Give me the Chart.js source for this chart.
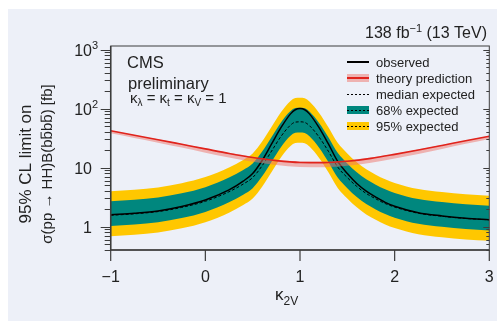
<!DOCTYPE html>
<html>
<head>
<meta charset="utf-8">
<script src="https://cdn.jsdelivr.net/npm/chart.js@4.4.0/dist/chart.umd.min.js"></script>
<style>
  html, body { margin: 0; padding: 0; background: #fff; }
</style>
</head>
<body>
<canvas id="limitChart" width="497" height="321"></canvas>
<script>
// kappa_2V scan points and limits [fb]
var kappa = [-1, -0.75, -0.5, -0.25, 0, 0.25, 0.4, 0.5, 0.6, 0.7, 0.8, 0.9, 0.95, 1.0, 1.05, 1.1, 1.2, 1.3, 1.4, 1.5, 1.6, 1.7, 1.8, 1.9, 2.0, 2.25, 2.5, 2.75, 3];
var observed = [1.578, 1.679, 1.841, 2.188, 2.818, 4.169, 5.888, 7.943, 13.18, 25.12, 47.86, 81.28, 95.50, 100, 95.50, 81.28, 47.86, 25.12, 12.59, 7.943, 5.370, 3.981, 3.162, 2.570, 2.213, 1.718, 1.514, 1.380, 1.300];
var median = [1.549, 1.641, 1.791, 2.109, 2.679, 3.890, 5.248, 6.761, 10.72, 19.05, 33.88, 52.48, 58.88, 59.57, 58.21, 51.29, 33.11, 18.84, 10.12, 6.761, 4.786, 3.631, 2.951, 2.455, 2.138, 1.679, 1.493, 1.371, 1.300];
var up68 = [2.692, 2.852, 3.113, 3.665, 4.656, 6.761, 9.121, 11.75, 18.63, 33.11, 58.88, 91.21, 102.3, 103.5, 101.2, 89.14, 57.55, 32.74, 17.59, 11.75, 8.318, 6.311, 5.129, 4.267, 3.716, 2.918, 2.595, 2.383, 2.259];
var down68 = [1.024, 1.085, 1.184, 1.394, 1.771, 2.571, 3.469, 4.469, 7.086, 12.59, 22.39, 34.69, 38.92, 39.38, 38.48, 33.90, 21.89, 12.45, 6.689, 4.469, 3.164, 2.400, 1.951, 1.623, 1.413, 1.110, 0.987, 0.906, 0.859];
var up95 = [3.981, 4.217, 4.603, 5.420, 6.885, 9.997, 13.49, 17.38, 27.55, 48.96, 87.07, 134.9, 151.3, 153.1, 149.6, 131.8, 85.09, 48.42, 26.01, 17.38, 12.30, 9.332, 7.584, 6.309, 5.495, 4.315, 3.837, 3.523, 3.341];
var down95 = [0.684, 0.725, 0.791, 0.931, 1.183, 1.718, 2.318, 2.986, 4.734, 8.412, 14.96, 23.17, 26.00, 26.31, 25.71, 22.65, 14.62, 8.320, 4.469, 2.986, 2.113, 1.603, 1.303, 1.084, 0.944, 0.741, 0.659, 0.605, 0.574];

// theory prediction and its band
var thKappa = [-1, -0.75, -0.5, -0.25, 0, 0.25, 0.5, 0.75, 1, 1.25, 1.5, 1.75, 2, 2.25, 2.5, 2.75, 3];
var theory = [42, 35.4, 29.7, 24.8, 20.7, 17.3, 14.8, 13.1, 12.2, 12.1, 12.8, 14.3, 16.7, 19.8, 23.7, 28.5, 34];
var theoryHi = [42.5, 35.8, 30.1, 25.2, 21.1, 17.8, 15.3, 13.6, 12.7, 12.6, 13.3, 14.8, 17.1, 20.2, 24.1, 28.8, 34.4];
var theoryLo = [38.0, 31.8, 26.4, 21.8, 17.9, 14.8, 12.5, 11.0, 10.2, 10.1, 10.7, 12.1, 14.2, 17.0, 20.6, 25.2, 30.6];

// axis ticks
var xTicks = [-1, 0, 1, 2, 3];
var xTickLabels = ['\u22121', '0', '1', '2', '3'];
var yTicks = [1, 10, 100, 1000];
var yTickBase = ['1', '10', '10', '10'];
var yTickExp = ['', '', '2', '3'];

var FONT = "'Liberation Sans', Arial, sans-serif";
var YELLOW = '#ffc700';
var GREEN = '#00877e';
var RED = '#e0231c';
var PINK = 'rgba(240,115,105,0.5)';
var FRAME = '#3c3c3c';

function pts(xs, ys) {
    return xs.map(function (x, i) { return { x: x, y: ys[i] }; });
}

// draw text made of runs with different sizes / offsets
function drawRuns(ctx, x, y, runs, align) {
    var total = 0;
    runs.forEach(function (r) {
        ctx.font = r.size + 'px ' + FONT;
        r.w = ctx.measureText(r.t).width;
        total += r.w;
    });
    var cx = x;
    if (align === 'right') cx = x - total;
    if (align === 'center') cx = x - total / 2;
    ctx.textAlign = 'left';
    ctx.textBaseline = 'alphabetic';
    runs.forEach(function (r) {
        ctx.font = r.size + 'px ' + FONT;
        ctx.fillText(r.t, cx, y + (r.dy || 0));
        if (r.bar) {
            ctx.fillRect(cx + 1, y - r.size * 0.76, r.w - 2, 1);
        }
        cx += r.w;
    });
    return total;
}

var decorPlugin = {
    id: 'decor',
    beforeDraw: function (chart) {
        var ctx = chart.ctx;
        ctx.save();
        ctx.fillStyle = '#edf0f8';
        ctx.fillRect(8, 9, chart.width - 8, chart.height - 9);
        ctx.restore();
    },
    afterDraw: function (chart) {
        var ctx = chart.ctx;
        var a = chart.chartArea;
        var xs = chart.scales.x;
        var ys = chart.scales.y;
        ctx.save();

        // frame
        ctx.strokeStyle = FRAME;
        ctx.lineWidth = 1;
        ctx.strokeRect(a.left, a.top, a.right - a.left, a.bottom - a.top);
        ctx.lineWidth = 1.5;
        ctx.beginPath();
        ctx.moveTo(a.left, a.top);
        ctx.lineTo(a.left, a.bottom);
        ctx.lineTo(a.right, a.bottom);
        ctx.stroke();

        // y ticks (log, major + minor)
        ctx.lineWidth = 1;
        for (var d = 0.1; d <= 1000; d *= 10) {
            for (var m = 1; m <= 9; m++) {
                var v = m * d;
                if (v < ys.min || v > ys.max) continue;
                var py = Math.round(ys.getPixelForValue(v)) + 0.5;
                var len = m === 1 ? 10 : 6;
                ctx.beginPath();
                ctx.moveTo(a.left - len, py);
                ctx.lineTo(a.left, py);
                ctx.moveTo(a.right, py);
                ctx.lineTo(a.right - (m === 1 ? 6 : 3), py);
                ctx.stroke();
            }
        }
        // x ticks
        ctx.lineWidth = 1.2;
        xTicks.forEach(function (t) {
            var px = xs.getPixelForValue(t);
            ctx.beginPath();
            ctx.moveTo(px, a.bottom);
            ctx.lineTo(px, a.bottom + 11);
            ctx.stroke();
        });

        ctx.fillStyle = '#222';
        // x tick labels
        xTicks.forEach(function (t, i) {
            drawRuns(ctx, xs.getPixelForValue(t), 282, [{ t: xTickLabels[i], size: 16 }], 'center');
        });
        // y tick labels
        yTicks.forEach(function (t, i) {
            var py = ys.getPixelForValue(t);
            drawRuns(ctx, 92, py + 6, [{ t: yTickBase[i], size: 16 }], 'right');
            if (yTickExp[i]) {
                drawRuns(ctx, 92, py - 1, [{ t: yTickExp[i], size: 11 }], 'left');
            }
        });

        // x title
        drawRuns(ctx, 275, 300, [{ t: '\u03ba', size: 17 }, { t: '2V', size: 12, dy: 5 }], 'left');

        // y title, rotated
        ctx.save();
        ctx.translate(31, 164);
        ctx.rotate(-Math.PI / 2);
        drawRuns(ctx, 0, 0, [{ t: '95% CL limit on', size: 17 }], 'center');
        ctx.restore();
        ctx.save();
        ctx.translate(52, 164);
        ctx.rotate(-Math.PI / 2);
        drawRuns(ctx, 0, 0, [
            { t: '\u03c3(pp \u2192 HH)B(b', size: 15 },
            { t: 'b', size: 15, bar: true },
            { t: 'b', size: 15 },
            { t: 'b', size: 15, bar: true },
            { t: ') [fb]', size: 15 }
        ], 'center');
        ctx.restore();

        // lumi label
        drawRuns(ctx, 487, 38, [
            { t: '138 fb', size: 16 },
            { t: '\u22121', size: 11, dy: -6 },
            { t: ' (13 TeV)', size: 16 }
        ], 'right');

        // CMS labels
        drawRuns(ctx, 127, 68, [{ t: 'CMS', size: 16.5 }], 'left');
        drawRuns(ctx, 128, 89, [{ t: 'preliminary', size: 16.5 }], 'left');
        drawRuns(ctx, 130, 103, [
            { t: '\u03ba', size: 15 }, { t: '\u03bb', size: 10, dy: 3 },
            { t: ' = \u03ba', size: 15 }, { t: 't', size: 10, dy: 3 },
            { t: ' = \u03ba', size: 15 }, { t: 'V', size: 10, dy: 3 },
            { t: ' = 1', size: 15 }
        ], 'left');

        // legend
        var lx = 347, lw = 22, tx = 376;
        var rows = [62, 78, 94, 110, 126];
        var names = ['observed', 'theory prediction', 'median expected', '68% expected', '95% expected'];
        // observed
        ctx.strokeStyle = '#000';
        ctx.lineWidth = 2;
        ctx.beginPath(); ctx.moveTo(lx, rows[0]); ctx.lineTo(lx + lw, rows[0]); ctx.stroke();
        // theory
        ctx.fillStyle = PINK;
        ctx.fillRect(lx, rows[1] - 4, lw, 8);
        ctx.strokeStyle = RED;
        ctx.beginPath(); ctx.moveTo(lx, rows[1]); ctx.lineTo(lx + lw, rows[1]); ctx.stroke();
        // median
        ctx.strokeStyle = '#000';
        ctx.lineWidth = 1;
        ctx.setLineDash([2, 2]);
        ctx.beginPath(); ctx.moveTo(lx, rows[2] + 0.5); ctx.lineTo(lx + lw, rows[2] + 0.5); ctx.stroke();
        // 68 / 95 boxes
        ctx.fillStyle = GREEN;
        ctx.fillRect(lx, rows[3] - 4, lw, 8);
        ctx.fillStyle = YELLOW;
        ctx.fillRect(lx, rows[4] - 4, lw, 8);
        ctx.beginPath();
        ctx.moveTo(lx, rows[3] + 0.5); ctx.lineTo(lx + lw, rows[3] + 0.5);
        ctx.moveTo(lx, rows[4] + 0.5); ctx.lineTo(lx + lw, rows[4] + 0.5);
        ctx.stroke();
        ctx.setLineDash([]);
        ctx.fillStyle = '#222';
        names.forEach(function (n, i) {
            drawRuns(ctx, tx, rows[i] + 4.5, [{ t: n, size: 13 }], 'left');
        });

        ctx.restore();
    }
};

var ctx = document.getElementById('limitChart').getContext('2d');
var base = { pointRadius: 0, borderWidth: 0, cubicInterpolationMode: 'monotone', fill: false };

var limitChart = new Chart(ctx, {
    type: 'line',
    data: {
        datasets: [
            Object.assign({}, base, { label: '95down', data: pts(kappa, down95), order: 10 }),
            Object.assign({}, base, { label: '95up', data: pts(kappa, up95), backgroundColor: YELLOW, fill: 0, order: 9 }),
            Object.assign({}, base, { label: '68down', data: pts(kappa, down68), order: 8 }),
            Object.assign({}, base, { label: '68up', data: pts(kappa, up68), backgroundColor: GREEN, fill: 2, order: 7 }),
            Object.assign({}, base, { label: 'median', data: pts(kappa, median), borderColor: '#000', borderWidth: 1, borderDash: [3, 2], order: 6 }),
            Object.assign({}, base, { label: 'observed', data: pts(kappa, observed), borderColor: '#000', borderWidth: 1.5, order: 5 }),
            Object.assign({}, base, { label: 'thLo', data: pts(thKappa, theoryLo), order: 4 }),
            Object.assign({}, base, { label: 'thHi', data: pts(thKappa, theoryHi), backgroundColor: PINK, fill: 6, order: 3 }),
            Object.assign({}, base, { label: 'theory', data: pts(thKappa, theory), borderColor: RED, borderWidth: 1.6, order: 2 })
        ]
    },
    options: {
        responsive: false,
        animation: false,
        devicePixelRatio: 1,
        layout: { padding: { left: 110.7, top: 46, right: 7.7, bottom: 71 } },
        scales: {
            x: { type: 'linear', min: -1, max: 3, display: false },
            y: { type: 'logarithmic', min: 0.4, max: 1150, display: false }
        },
        plugins: {
            legend: { display: false },
            tooltip: { enabled: false }
        }
    },
    plugins: [decorPlugin]
});
</script>
</body>
</html>
